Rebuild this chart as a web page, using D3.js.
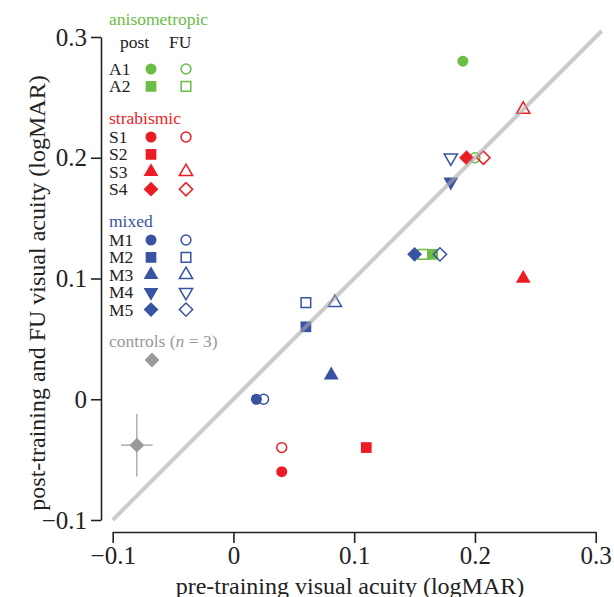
<!DOCTYPE html>
<html>
<head>
<meta charset="utf-8">
<script src="https://cdn.jsdelivr.net/npm/d3@7"></script>
<style>
body { margin: 0; background: #fff; }
text { font-family: "Liberation Serif", "Times New Roman", serif; }
</style>
</head>
<body>
<div id="chart"></div>
<script>
// subjects, in legend order
var subjects = ["A1", "A2", "S1", "S2", "S3", "S4", "M1", "M2", "M3", "M4", "M5"];
var groups = ["aniso", "aniso", "strab", "strab", "strab", "strab", "mixed", "mixed", "mixed", "mixed", "mixed"];
var shapes = ["circle", "square", "circle", "square", "triangle", "diamond", "circle", "square", "triangle", "triangleDown", "diamond"];

// post-training: x = pre-training acuity, y = post-training acuity
var postX = [0.19, 0.165, 0.04, 0.11, 0.24, 0.193, 0.019, 0.06, 0.081, 0.18, 0.15];
var postY = [0.28, 0.12, -0.06, -0.04, 0.10, 0.20, 0.0, 0.06, 0.02, 0.18, 0.12];
// follow-up (FU): x = pre-training acuity, y = FU acuity (null = no FU)
var fuX = [0.20, 0.157, 0.04, null, 0.24, 0.207, 0.025, 0.06, 0.084, 0.18, 0.171];
var fuY = [0.20, 0.12, -0.04, null, 0.24, 0.20, 0.0, 0.08, 0.08, 0.20, 0.12];

// controls mean with error bars
var ctrlX = [-0.08];
var ctrlY = [-0.038];
var ctrlXErr = [0.013];
var ctrlYErr = [0.026];

var xTicks = [-0.1, 0, 0.1, 0.2, 0.3];
var yTicks = [-0.1, 0, 0.1, 0.2, 0.3];

var groupNames = ["aniso", "strab", "mixed"];
var groupLabels = ["anisometropic", "strabismic", "mixed"];
var groupColors = ["#6abd45", "#ed1c24", "#3953a4"];
var ctrlColor = "#999999";

function init(){
	scatter();
}

function scatter(){
	var width = 614;
	var height = 597;

	var svg = d3.select("#chart").append("svg")
				.attr("width", width)
				.attr("height", height);

	var x = d3.scaleLinear().domain([-0.1, 0.3]).range([112.7, 595.7]);
	var y = d3.scaleLinear().domain([-0.1, 0.3]).range([520, 37]);

	var color = d3.scaleOrdinal().domain(groupNames).range(groupColors);

	var fmt = function(d){ return d === 0 ? "0" : d3.format(".1f")(d); };

	//axes, drawn as separate range frames
	var yAxis = svg.append("g")
				   .attr("transform", "translate(101,0)")
				   .call(d3.axisLeft(y).tickValues(yTicks).tickFormat(fmt).tickSize(10).tickPadding(4).tickSizeOuter(0));
	var xAxis = svg.append("g")
				   .attr("transform", "translate(0,532)")
				   .call(d3.axisBottom(x).tickValues(xTicks).tickFormat(fmt).tickSize(11).tickPadding(3).tickSizeOuter(0));

	[xAxis, yAxis].forEach(function(a){
		a.select(".domain").attr("stroke", "#222").attr("stroke-width", 1.6);
		a.selectAll(".tick line").attr("stroke", "#222").attr("stroke-width", 1.6);
		a.selectAll(".tick text")
		 .attr("fill", "#222")
		 .style("font-family", "'Liberation Serif', serif")
		 .style("font-size", "25px");
	});

	svg.append("text")
	   .attr("x", 350)
	   .attr("y", 594)
	   .attr("text-anchor", "middle")
	   .attr("fill", "#222")
	   .style("font-size", "24px")
	   .text("pre-training visual acuity (logMAR)");

	svg.append("text")
	   .attr("transform", "translate(45,293) rotate(-90)")
	   .attr("text-anchor", "middle")
	   .attr("fill", "#222")
	   .style("font-size", "24px")
	   .text("post-training and FU visual acuity (logMAR)");

	//symbol helper
	function symbolPath(shape, open){
		var s = open ? 0.8 : 1;
		if(shape == "circle") return d3.symbol().type(d3.symbolCircle).size(95 * s)();
		if(shape == "square") return d3.symbol().type(d3.symbolSquare).size(115 * s)();
		if(shape == "triangle" || shape == "triangleDown") return d3.symbol().type(d3.symbolTriangle).size(95 * s)();
		return d3.symbol().type(d3.symbolSquare).size(110 * s)();
	}
	function rot(shape){
		if(shape == "diamond") return " rotate(45)";
		if(shape == "triangleDown") return " rotate(180)";
		return "";
	}

	//points data table
	var points = [];
	for (var i = 0; i < subjects.length; i++) {
		points.push({x: postX[i], y: postY[i], shape: shapes[i], group: groups[i], open: false});
		if (fuX[i] !== null) {
			points.push({x: fuX[i], y: fuY[i], shape: shapes[i], group: groups[i], open: true});
		}
	}

	svg.selectAll("path.pt").data(points).enter()
	   .append("path")
	   .attr("class", "pt")
	   .attr("d", d => symbolPath(d.shape, d.open))
	   .attr("transform", d => "translate(" + x(d.x) + "," + y(d.y) + ")" + rot(d.shape))
	   .attr("fill", d => d.open ? "none" : color(d.group))
	   .attr("stroke", d => color(d.group))
	   .attr("stroke-width", d => d.open ? 1.5 : 0);

	//controls with error bars
	var ctrl = svg.append("g");
	ctrlX.forEach(function(cx, i){
		ctrl.append("line")
			.attr("x1", x(cx - ctrlXErr[i])).attr("x2", x(cx + ctrlXErr[i]))
			.attr("y1", y(ctrlY[i])).attr("y2", y(ctrlY[i]))
			.attr("stroke", ctrlColor).attr("stroke-width", 1.2);
		ctrl.append("line")
			.attr("x1", x(cx)).attr("x2", x(cx))
			.attr("y1", y(ctrlY[i] - ctrlYErr[i])).attr("y2", y(ctrlY[i] + ctrlYErr[i]))
			.attr("stroke", ctrlColor).attr("stroke-width", 1.2);
		ctrl.append("path")
			.attr("d", symbolPath("diamond", false))
			.attr("transform", "translate(" + x(cx) + "," + y(ctrlY[i]) + ") rotate(45)")
			.attr("fill", ctrlColor);
	});

	//identity line, semi-transparent over the markers
	svg.append("line")
	   .attr("x1", x(-0.1)).attr("y1", y(-0.1))
	   .attr("x2", x(0.305)).attr("y2", y(0.305))
	   .attr("stroke", "#a8a8a8")
	   .attr("stroke-opacity", 0.6)
	   .attr("stroke-width", 4);

	//legend
	var lx = 109, postCol = 151, fuCol = 186;
	var legend = svg.append("g").style("font-size", "17.5px");
	var headerY = {aniso: 25, strab: 124, mixed: 227};
	var rowStart = {aniso: 69, strab: 137, mixed: 240};
	var rowStep = 17.4;

	groupNames.forEach(function(g, gi){
		legend.append("text")
			  .attr("x", lx)
			  .attr("y", headerY[g])
			  .attr("fill", groupColors[gi])
			  .text(groupLabels[gi]);
	});

	legend.append("text").attr("x", 120).attr("y", 48).attr("fill", "#222").text("post");
	legend.append("text").attr("x", 169).attr("y", 48).attr("fill", "#222").text("FU");

	var count = {aniso: 0, strab: 0, mixed: 0};
	subjects.forEach(function(s, i){
		var g = groups[i];
		var ry = rowStart[g] + rowStep * count[g];
		count[g]++;
		legend.append("text")
			  .attr("x", lx)
			  .attr("y", ry + 6)
			  .attr("fill", "#222")
			  .text(s);
		legend.append("path")
			  .attr("d", symbolPath(shapes[i], false))
			  .attr("transform", "translate(" + postCol + "," + ry + ")" + rot(shapes[i]))
			  .attr("fill", color(g));
		if (fuX[i] !== null) {
			legend.append("path")
				  .attr("d", symbolPath(shapes[i], true))
				  .attr("transform", "translate(" + fuCol + "," + ry + ")" + rot(shapes[i]))
				  .attr("fill", "none")
				  .attr("stroke", color(g))
				  .attr("stroke-width", 1.5);
		}
	});

	var ctrlLabel = legend.append("text")
						  .attr("x", lx)
						  .attr("y", 347)
						  .attr("fill", ctrlColor);
	ctrlLabel.append("tspan").text("controls (");
	ctrlLabel.append("tspan").style("font-style", "italic").text("n");
	ctrlLabel.append("tspan").text(" = 3)");
	legend.append("path")
		  .attr("d", symbolPath("diamond", false))
		  .attr("transform", "translate(152,360) rotate(45)")
		  .attr("fill", ctrlColor);
}

window.onload = init;
</script>
</body>
</html>
